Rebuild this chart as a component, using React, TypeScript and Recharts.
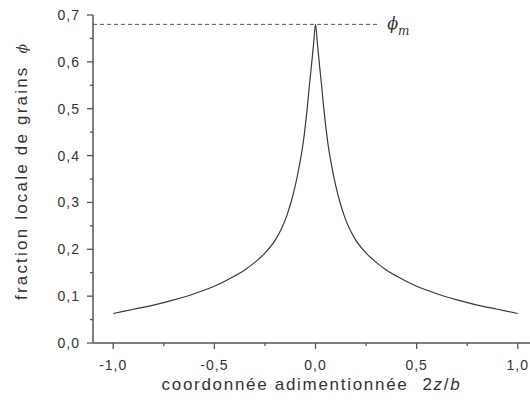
import { LineChart, Line, XAxis, YAxis, ReferenceLine, Label } from 'recharts'

// coordonnée adimentionnée 2z/b
const zValues = [
  -1.0, -0.9, -0.8, -0.7, -0.6, -0.5, -0.4, -0.35, -0.3, -0.25, -0.2, -0.17, -0.14, -0.12,
  -0.1, -0.08, -0.06, -0.05, -0.04, -0.03, -0.02, -0.01, 0,
  0.01, 0.02, 0.03, 0.04, 0.05, 0.06, 0.08, 0.1, 0.12, 0.14, 0.17, 0.2, 0.25, 0.3, 0.35,
  0.4, 0.5, 0.6, 0.7, 0.8, 0.9, 1.0,
]

// fraction locale de grains phi
const phiValues = [
  0.063, 0.072, 0.081, 0.092, 0.105, 0.121, 0.143, 0.156, 0.172, 0.192, 0.219, 0.242, 0.274, 0.302,
  0.336, 0.378, 0.43, 0.465, 0.505, 0.55, 0.592, 0.636, 0.68,
  0.636, 0.592, 0.55, 0.505, 0.465, 0.43, 0.378, 0.336, 0.302, 0.274, 0.242, 0.219, 0.192, 0.172, 0.156,
  0.143, 0.121, 0.105, 0.092, 0.081, 0.072, 0.063,
]

const phiMax = 0.68
const dashEndZ = 0.305

const xMajorTicks = [-1.0, -0.5, 0, 0.5, 1.0]
const xMinorTicks = [-0.75, -0.25, 0.25, 0.75]
const yMajorTicks = [0, 0.1, 0.2, 0.3, 0.4, 0.5, 0.6, 0.7]
const yMinorTicks = [0.05, 0.15, 0.25, 0.35, 0.45, 0.55, 0.65]

const data = zValues.map((z, i) => ({ z, phi: phiValues[i] }))

const AXIS = '#555'
const TEXT = '#333'
const SANS = '"Liberation Sans", Arial, sans-serif'
const GREEK = '"DejaVu Serif", "Liberation Serif", serif'

const fmt = (v: number) => v.toFixed(1).replace('.', ',')

const Y_TICK_SIZE = 7
const Y_TICK_MARGIN = 6
const X_TICK_SIZE = 6
const X_TICK_MARGIN = 4

function YTick(props: any) {
  const { x, y, payload } = props
  const axisX = x + Y_TICK_MARGIN + Y_TICK_SIZE
  const major = yMajorTicks.includes(payload.value)
  return (
    <g>
      <line x1={axisX - (major ? 6 : 3)} x2={axisX} y1={y} y2={y} stroke={AXIS} strokeWidth={1.3} />
      {major && (
        <text x={x} y={y} dy={5} textAnchor="end" fontFamily={SANS} fontSize={14} letterSpacing={1} fill={TEXT}>
          {fmt(payload.value)}
        </text>
      )}
    </g>
  )
}

function XTick(props: any) {
  const { x, y, payload } = props
  const axisY = y - X_TICK_MARGIN - X_TICK_SIZE
  const major = xMajorTicks.includes(payload.value)
  return (
    <g>
      <line x1={x} x2={x} y1={axisY} y2={axisY + (major ? 6 : 3)} stroke={AXIS} strokeWidth={1.3} />
      {major && (
        <text x={x} y={axisY + 27} textAnchor="middle" fontFamily={SANS} fontSize={14} letterSpacing={1} fill={TEXT}>
          {fmt(payload.value)}
        </text>
      )}
    </g>
  )
}

function XTitle(props: any) {
  const vb = props.viewBox
  return (
    <text x={vb.x + vb.width / 2 - 4} y={vb.y + 47} textAnchor="middle" fontFamily={SANS} fontSize={17} letterSpacing={1.7} fill={TEXT}>
      coordonnée adimentionnée
      <tspan dx={14}>2</tspan>
      <tspan fontStyle="italic">z</tspan>
      <tspan>/</tspan>
      <tspan fontStyle="italic">b</tspan>
    </text>
  )
}

function YTitle(props: any) {
  const vb = props.viewBox
  const cx = vb.x + 27
  const cy = vb.y + vb.height / 2 - 7
  return (
    <text x={cx} y={cy} transform={`rotate(-90, ${cx}, ${cy})`} textAnchor="middle" fontFamily={SANS} fontSize={17} letterSpacing={2.2} fill={TEXT}>
      fraction locale de grains
      <tspan dx={12} fontFamily={GREEK} fontStyle="italic" fontSize={14} letterSpacing={0}>ϕ</tspan>
    </text>
  )
}

function PhiMLabel(props: any) {
  const vb = props.viewBox
  const x = vb.x + vb.width + 10
  const y = vb.y + 5
  return (
    <text x={x} y={y} fontFamily={GREEK} fontStyle="italic" fontSize={16} fill={TEXT}>
      ϕ
      <tspan dy={6} fontSize={12}>m</tspan>
    </text>
  )
}

export default function App() {
  return (
    <div style={{ position: 'absolute', left: 0, top: 0, width: 530, height: 402, overflow: 'hidden', background: '#fff' }}>
      <LineChart width={540} height={402} data={data} margin={{ top: 15, right: 2, bottom: 0, left: 0 }}>
        <XAxis
          dataKey="z"
          type="number"
          domain={[-1.1, 1.1]}
          ticks={[...xMajorTicks, ...xMinorTicks].sort((a, b) => a - b)}
          interval={0}
          height={59}
          tickSize={X_TICK_SIZE}
          tickMargin={X_TICK_MARGIN}
          tickLine={false}
          tick={<XTick />}
          axisLine={{ stroke: AXIS, strokeWidth: 1.5 }}
        >
          <Label content={<XTitle />} />
        </XAxis>
        <YAxis
          type="number"
          domain={[0, 0.7]}
          ticks={[...yMajorTicks, ...yMinorTicks].sort((a, b) => a - b)}
          interval={0}
          width={93}
          tickSize={Y_TICK_SIZE}
          tickMargin={Y_TICK_MARGIN}
          tickLine={false}
          tick={<YTick />}
          axisLine={{ stroke: AXIS, strokeWidth: 1.5 }}
        >
          <Label content={<YTitle />} />
        </YAxis>
        <ReferenceLine
          segment={[{ x: -1.1, y: phiMax }, { x: dashEndZ, y: phiMax }]}
          stroke={AXIS}
          strokeWidth={1}
          strokeDasharray="4 3"
          label={<PhiMLabel />}
        />
        <Line
          type="monotone"
          dataKey="phi"
          stroke="#3a3a3a"
          strokeWidth={1.2}
          dot={false}
          isAnimationActive={false}
        />
      </LineChart>
    </div>
  )
}
